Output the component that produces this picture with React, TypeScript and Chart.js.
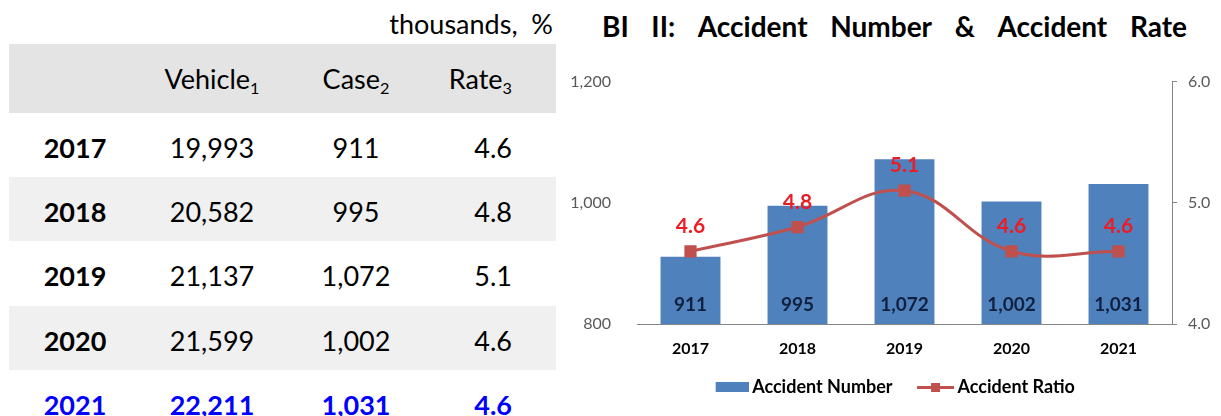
import React, { useEffect, useRef } from 'react';
import Chart from 'chart.js/auto';

const years = ['2017', '2018', '2019', '2020', '2021'];
const vehicles = [19993, 20582, 21137, 21599, 22211];
const cases = [911, 995, 1072, 1002, 1031];
const rates = [4.6, 4.8, 5.1, 4.6, 4.6];
const leftTicks = [800, 1000, 1200];
const rightTicks = [4.0, 5.0, 6.0];
const headers = ['Vehicle', 'Case', 'Rate'];
const headerSubs = ['1', '2', '3'];
const seriesNames = ['Accident Number', 'Accident Ratio'];
const unitNote = 'thousands,  %';
const titleWords = ['BI', 'II:', 'Accident', 'Number', '&', 'Accident', 'Rate'];

const BAR_COLOR = '#4F81BD';
const LINE_COLOR = '#C0504D';
const FONT = 'Lato';

const fmt = (n: number) => n.toLocaleString('en-US');

function Txt(props: { x: number; y: number; align?: 'center' | 'right' | 'left'; style?: any; children: any }) {
  const { x, y, align = 'center', style, children } = props;
  const w = 240;
  const left = align === 'center' ? x - w / 2 : align === 'right' ? x - w : x;
  return (
    <div
      style={{
        position: 'absolute',
        left,
        top: y - 18,
        width: w,
        height: 36,
        lineHeight: '36px',
        textAlign: align,
        whiteSpace: 'pre',
        ...style,
      }}
    >
      {children}
    </div>
  );
}

// legend swatches: transparent on the left so the mark sits right next to its text
function makeSwatch(kind: 'bar' | 'line') {
  const c = document.createElement('canvas');
  c.width = 48;
  c.height = 10;
  const g = c.getContext('2d')!;
  g.fillStyle = kind === 'bar' ? BAR_COLOR : LINE_COLOR;
  if (kind === 'bar') {
    g.fillRect(15, 0, 33, 10);
  } else {
    g.fillRect(11, 4, 37, 3);
    g.fillRect(25, 1, 9, 9);
  }
  return c;
}

const valueLabels = {
  id: 'valueLabels',
  afterDatasetsDraw(chart: any) {
    const ctx = chart.ctx;
    const barMeta = chart.getDatasetMeta(0);
    const lineMeta = chart.getDatasetMeta(1);
    const bottom = chart.scales.y.bottom;
    ctx.save();
    ctx.textAlign = 'center';
    ctx.textBaseline = 'middle';
    ctx.font = `bold 19px ${FONT}`;
    ctx.fillStyle = '#10203F';
    barMeta.data.forEach((el: any, i: number) => {
      ctx.fillText(fmt(cases[i]), el.x, bottom - 19);
    });
    ctx.font = `bold 21px ${FONT}`;
    ctx.fillStyle = '#EC1C24';
    lineMeta.data.forEach((el: any, i: number) => {
      ctx.fillText(rates[i].toFixed(1), el.x, el.y - 25);
    });
    ctx.restore();
  },
};

function ComboChart() {
  const ref = useRef<HTMLCanvasElement>(null);
  useEffect(() => {
    if (!ref.current) return;
    const barSwatch = makeSwatch('bar');
    const lineSwatch = makeSwatch('line');
    const chart = new Chart(ref.current, {
      type: 'bar',
      data: {
        labels: years,
        datasets: [
          {
            type: 'bar',
            label: seriesNames[0],
            data: cases,
            yAxisID: 'y',
            backgroundColor: BAR_COLOR,
            barPercentage: 0.56,
            categoryPercentage: 1.0,
            order: 2,
          },
          {
            type: 'line',
            label: seriesNames[1],
            data: rates,
            yAxisID: 'y1',
            borderColor: LINE_COLOR,
            backgroundColor: LINE_COLOR,
            borderWidth: 3,
            tension: 0.4,
            pointStyle: 'rect',
            pointRadius: 6.5,
            pointBackgroundColor: LINE_COLOR,
            pointBorderColor: LINE_COLOR,
            order: 1,
          } as any,
        ],
      },
      options: {
        animation: false,
        responsive: true,
        maintainAspectRatio: false,
        layout: { padding: { top: 0, bottom: 10, left: 0, right: 0 } },
        plugins: {
          tooltip: { enabled: false },
          title: { display: false },
          legend: {
            position: 'bottom',
            labels: {
              usePointStyle: true,
              pointStyleWidth: 37,
              boxHeight: 10,
              padding: 19,
              color: '#000',
              font: { family: FONT, size: 18, weight: 'bold' },
              generateLabels: () => [
                { text: seriesNames[0], pointStyle: barSwatch, fillStyle: BAR_COLOR, strokeStyle: BAR_COLOR, lineWidth: 0, hidden: false, datasetIndex: 0, fontColor: '#000' },
                { text: seriesNames[1], pointStyle: lineSwatch, fillStyle: LINE_COLOR, strokeStyle: LINE_COLOR, lineWidth: 0, hidden: false, datasetIndex: 1, fontColor: '#000' },
              ] as any,
            },
          },
        },
        scales: {
          x: {
            grid: { display: false, drawTicks: false },
            border: { display: true, color: '#868686', width: 1 },
            ticks: { color: '#000', padding: 15, font: { family: FONT, size: 16, weight: 'bold' } },
            afterFit: (s: any) => {
              s.height = 35;
            },
          },
          y: {
            position: 'left',
            min: 800,
            max: 1200,
            afterBuildTicks: (s: any) => {
              s.ticks = leftTicks.map((v) => ({ value: v }));
            },
            ticks: { callback: (v: any) => fmt(Number(v)), padding: 26, color: '#595959', font: { family: FONT, size: 16 } },
            grid: { display: false, drawTicks: false },
            border: { display: false },
            afterFit: (s: any) => {
              s.width = 77;
            },
          },
          y1: {
            position: 'right',
            min: 4,
            max: 6,
            afterBuildTicks: (s: any) => {
              s.ticks = rightTicks.map((v) => ({ value: v }));
            },
            ticks: { callback: (v: any) => Number(v).toFixed(1), padding: 11, color: '#595959', font: { family: FONT, size: 16 } },
            grid: { drawOnChartArea: false, drawTicks: true, tickLength: 5, color: '#868686' },
            border: { display: true, color: '#868686', width: 1 },
            afterFit: (s: any) => {
              s.width = 49;
            },
          },
        },
      } as any,
      plugins: [valueLabels],
    });
    return () => chart.destroy();
  }, []);
  return <canvas ref={ref} />;
}

export default function App() {
  const rowTop = 113;
  const rowH = 64.2;
  const colYear = 75;
  const colVeh = 212;
  const colCase = 356;
  const colRate = 512;
  const cellFont = { fontSize: 27, color: '#000' };
  return (
    <div
      style={{
        position: 'absolute',
        left: 0,
        top: 0,
        width: 1221,
        height: 416,
        overflow: 'hidden',
        background: '#fff',
        fontFamily: FONT,
      }}
    >
      <Txt x={553} y={24} align="right" style={{ fontSize: 27 }}>
        {unitNote}
      </Txt>
      <div style={{ position: 'absolute', left: 9, top: 44, width: 547, height: 69, background: '#E4E4E4' }} />
      {[colVeh, colCase, colRate].map((x, i) => (
        <Txt key={i} x={x} y={79} align={i === 2 ? 'right' : 'center'} style={cellFont}>
          {headers[i]}
          <span style={{ fontSize: '0.6em', verticalAlign: '-0.3em' }}>{headerSubs[i]}</span>
        </Txt>
      ))}
      {years.map((yr, i) => {
        const top = rowTop + i * rowH;
        const cy = top + 35;
        const last = i === years.length - 1;
        const color = last ? '#0000FF' : '#000';
        const weight = last ? 'bold' : 'normal';
        return (
          <React.Fragment key={yr}>
            {i % 2 === 1 && (
              <div style={{ position: 'absolute', left: 9, top, width: 547, height: rowH, background: '#F0F0F0' }} />
            )}
            <Txt x={colYear} y={cy} style={{ ...cellFont, color, fontWeight: 'bold' }}>
              {yr}
            </Txt>
            <Txt x={colVeh} y={cy} style={{ ...cellFont, color, fontWeight: weight }}>
              {fmt(vehicles[i])}
            </Txt>
            <Txt x={colCase} y={cy} style={{ ...cellFont, color, fontWeight: weight }}>
              {fmt(cases[i])}
            </Txt>
            <Txt x={colRate} y={cy} align="right" style={{ ...cellFont, color, fontWeight: weight }}>
              {rates[i].toFixed(1)}
            </Txt>
          </React.Fragment>
        );
      })}
      <div
        style={{
          position: 'absolute',
          left: 602,
          top: 8,
          width: 585,
          height: 36,
          lineHeight: '36px',
          display: 'flex',
          justifyContent: 'space-between',
          fontSize: 28,
          fontWeight: 'bold',
          color: '#000',
        }}
      >
        {titleWords.map((w, i) => (
          <span key={i}>{w}</span>
        ))}
      </div>
      <div style={{ position: 'absolute', left: 560, top: 46, width: 661, height: 370 }}>
        <ComboChart />
      </div>
    </div>
  );
}
